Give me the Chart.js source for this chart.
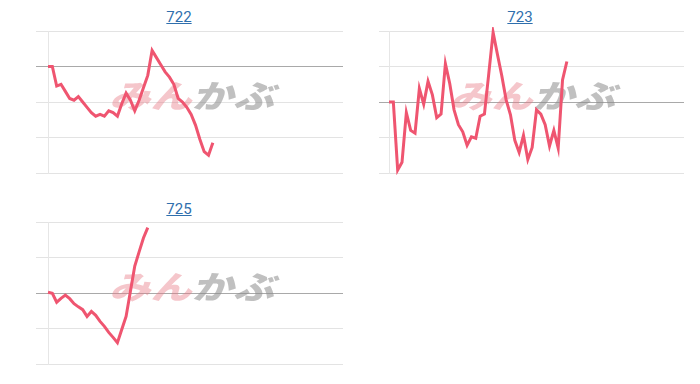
<!DOCTYPE html>
<html>
<head>
<meta charset="utf-8">
<script src="https://cdn.jsdelivr.net/npm/chart.js@4"></script>
<style>
  html, body { margin: 0; padding: 0; background: #fff; }
  body { width: 700px; height: 384px; position: relative; overflow: hidden; font-family: Roboto, "Liberation Sans", sans-serif; }
  .ttl { position: absolute; width: 160px; text-align: center; font-size: 15px; line-height: 20px; }
  .ttl a { color: #2f6fad; text-decoration: underline; }
  canvas { position: absolute; }
</style>
</head>
<body>
<div class="ttl" style="left:99px;top:7px"><a href="#">722</a></div>
<div class="ttl" style="left:440px;top:7px"><a href="#">723</a></div>
<div class="ttl" style="left:99px;top:199px"><a href="#">725</a></div>
<canvas id="c722" width="310" height="150" style="left:36px;top:26px"></canvas>
<canvas id="c723" width="308" height="150" style="left:379px;top:26px"></canvas>
<canvas id="c725" width="310" height="150" style="left:36px;top:217px"></canvas>
<script>
// 5分足の時刻ラベル (9:00〜)
const times = [];
for (let m = 0; m < 69; m++) {
  const t = 9 * 60 + m * 5;
  times.push(Math.floor(t / 60) + ':' + String(t % 60).padStart(2, '0'));
}

// 722
const prices722 = [
  1510, 1510, 1504.5, 1505, 1503, 1501, 1500.5, 1501.5, 1500, 1498.5,
  1497, 1496, 1496.5, 1496, 1497.5, 1497, 1496, 1499.5, 1502.5, 1500.5,
  1497.5, 1500.5, 1504, 1507.5, 1514.5, 1512.5, 1510.5, 1508.5, 1507, 1505,
  1501, 1500, 1498.5, 1496.5, 1493.5, 1489.5, 1486, 1485, 1488.5
];
const prev722 = 1510;
const range722 = [1480, 1520, 10];

// 723
const prices723 = [
  2000.0, 2000.0, 1990.4, 1991.5, 1998.5, 1996.0, 1995.6, 2001.9, 1999.7, 2002.9,
  2001.0, 1997.8, 1998.3, 2005.4, 2002.6, 1998.9, 1996.8, 1995.8, 1993.9, 1995.1,
  1994.9, 1998.0, 1998.3, 2004.0, 2009.8, 2006.7, 2003.7, 2000.3, 1998.2, 1994.6,
  1992.9, 1995.3, 1991.9, 1993.6, 1998.9, 1998.3, 1996.8, 1993.8, 1996.0, 1993.5,
  2003.1, 2005.7
];
const prev723 = 2000;
const range723 = [1990, 2010, 5];

// 725
const prices725 = [
  1000.2, 999.9, 997.4, 998.5, 999.4, 998.4, 997.0, 996.1, 995.3, 993.4,
  994.8, 993.7, 992.0, 990.6, 988.9, 987.5, 986.0, 989.7, 993.4, 1000.5,
  1007.6, 1011.6, 1015.5, 1018.4
];
const prev725 = 1000;
const range725 = [980, 1020, 10];

// 透かしロゴ
const watermark = {
  id: 'watermark',
  beforeDatasetsDraw(chart) {
    const { ctx, chartArea } = chart;
    const cx = (chartArea.left + chartArea.right) / 2;
    const cy = (chartArea.top + chartArea.bottom) / 2 - 6;
    ctx.save();
    ctx.font = '900 40px "Noto Sans CJK JP"';
    ctx.textBaseline = 'middle';
    const w1 = ctx.measureText('みん').width;
    const w2 = ctx.measureText('かぶ').width;
    const sx = 165 / (w1 + w2);
    ctx.translate(cx, cy);
    ctx.transform(1, 0, -0.3, 1, 0, 0);
    ctx.scale(sx, 0.8);
    ctx.fillStyle = 'rgba(232, 120, 130, 0.42)';
    ctx.fillText('みん', -(w1 + w2) / 2, 0);
    ctx.fillStyle = 'rgba(140, 140, 140, 0.55)';
    ctx.fillText('かぶ', -(w1 + w2) / 2 + w1, 0);
    ctx.restore();
  }
};

function drawChart(id, prices, prev, range, tickLen) {
  const ctx = document.getElementById(id).getContext('2d');
  return new Chart(ctx, {
    type: 'line',
    data: {
      labels: times,
      datasets: [{
        data: prices,
        borderColor: '#ef5570',
        borderWidth: 3,
        pointRadius: 0,
        tension: 0,
        fill: false,
        clip: 4
      }]
    },
    options: {
      responsive: false,
      animation: false,
      devicePixelRatio: 1,
      layout: { padding: { top: 5, right: 3, bottom: 3, left: 0 } },
      plugins: { legend: { display: false }, tooltip: { enabled: false } },
      scales: {
        x: { display: false },
        y: {
          min: range[0],
          max: range[1],
          ticks: { display: false, stepSize: range[2] },
          grid: {
            tickLength: tickLen,
            color: (c) => (c.tick && c.tick.value === prev ? '#a9a9a9' : '#e3e3e3')
          },
          border: { color: '#e6e6e6' }
        }
      }
    },
    plugins: [watermark]
  });
}

drawChart('c722', prices722, prev722, range722, 12);
drawChart('c723', prices723, prev723, range723, 10);
drawChart('c725', prices725, prev725, range725, 12);
</script>
</body>
</html>
